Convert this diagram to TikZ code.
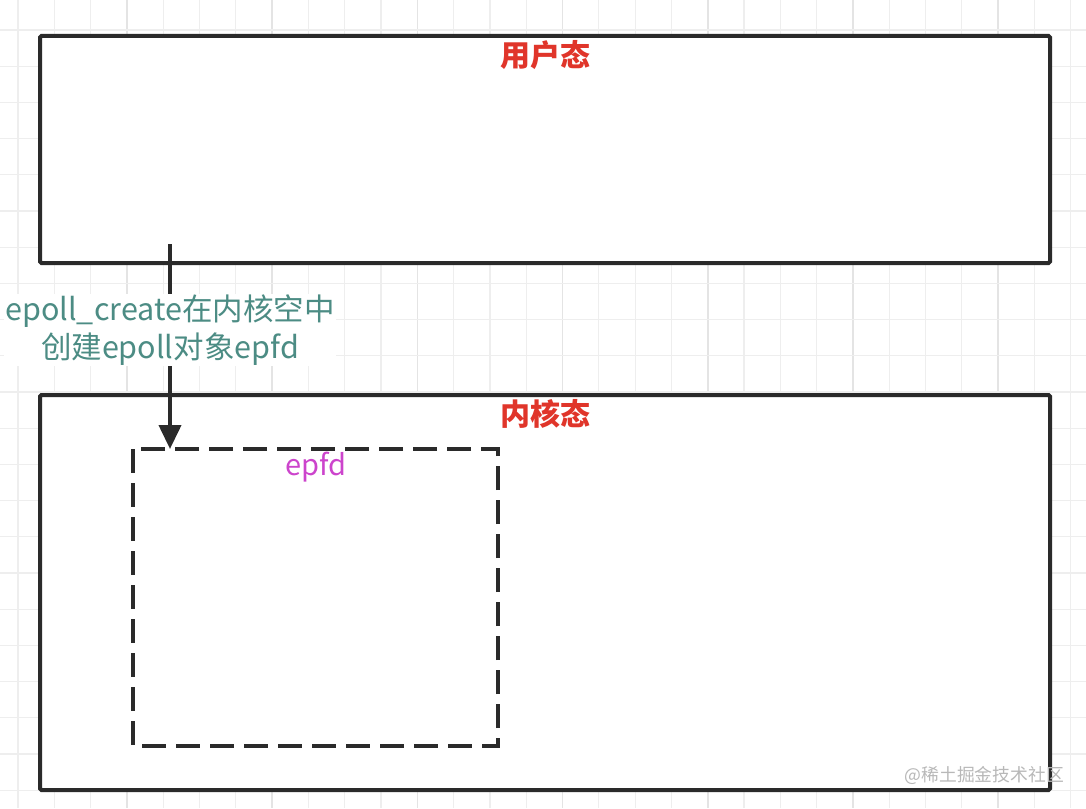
\documentclass[tikz,border=0pt]{standalone}
\usepackage{fontspec}
\newfontfamily\cjk{Noto Sans CJK SC}
\usetikzlibrary{arrows.meta}
\definecolor{gridminor}{HTML}{EEEEEE}
\definecolor{gridmajor}{HTML}{E4E4E4}
\definecolor{boxline}{HTML}{2A2A2A}
\definecolor{titlered}{HTML}{E0352A}
\definecolor{tealtext}{HTML}{4C8C84}
\definecolor{epfdpink}{HTML}{CC44CC}
\definecolor{wmgray}{HTML}{B8B8B8}
\tikzset{
  region/.style={draw=boxline, line width=4pt, rounded corners=1.5pt},
  dashbox/.style={draw=boxline, line width=4pt, dash pattern=on 24pt off 10pt},
  title/.style={font=\cjk\bfseries\fontsize{30}{34}\selectfont, text=titlered, inner sep=0pt},
  label/.style={font=\cjk\fontsize{30.5}{38}\selectfont, text=tealtext, fill=white, align=center, inner sep=1pt},
  epfdlabel/.style={font=\cjk\fontsize{29}{32}\selectfont, text=epfdpink, inner sep=0pt},
  flow/.style={draw=boxline, line width=4pt, -{Triangle[width=22pt,length=24pt]}}
}
\begin{document}
\begin{tikzpicture}[x=1pt,y=-1pt]
\useasboundingbox (0,0) rectangle (1086,808);
\fill[white] (0,0) rectangle (1086,808);
% grid
\foreach \i in {0,...,29} {
  \pgfmathsetmacro{\xx}{18+36.3*\i}
  \pgfmathtruncatemacro{\m}{mod(\i,4)}
  \ifnum\m=3
    \draw[gridmajor, line width=1.6pt] (\xx,0) -- (\xx,808);
  \else
    \draw[gridminor, line width=1.2pt] (\xx,0) -- (\xx,808);
  \fi
}
\foreach \j in {0,...,22} {
  \pgfmathsetmacro{\yy}{30+36.2*\j}
  \draw[gridminor, line width=1.2pt] (0,\yy) -- (1086,\yy);
}
% user space box
\filldraw[region, fill=white] (40,36) rectangle (1050,263);
\node[title] (user) at (545,55) {用户态};
% kernel space box
\filldraw[region, fill=white] (40,395) rectangle (1050,790);
\node[title] (kernel) at (545,414) {内核态};
% epfd dashed box
\draw[dashbox] (133,449) rectangle (498,746);
\coordinate (epfdtop) at (170,449);
\node[epfdlabel] (epfd) at (316,467) {epfd};
% arrow
\coordinate (start) at (170,244);
\draw[flow] (start) -- (epfdtop);
\node[label] (call) at (170,330) {epoll\_create在内核空中\\创建epoll对象epfd};
% watermark
\node[font=\cjk\fontsize{17.8}{20}\selectfont, text=wmgray, anchor=east, inner sep=0pt] (wm) at (1064,775) {@稀土掘金技术社区};
\end{tikzpicture}
\end{document}
